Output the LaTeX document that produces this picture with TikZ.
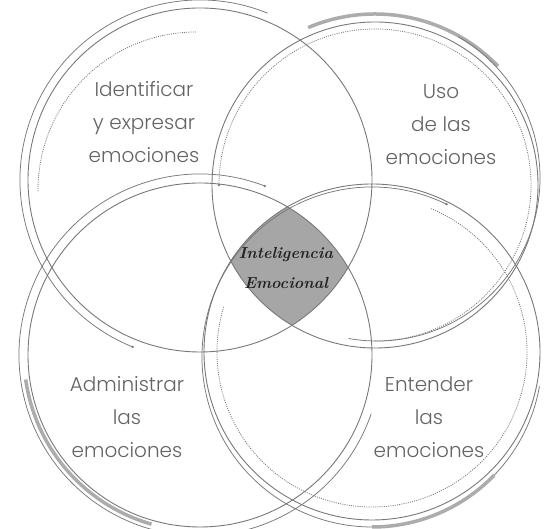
\documentclass[tikz,border=0pt]{standalone}
\usepackage{fontspec}
\newfontfamily\lblfont{Poppins Light}
\usetikzlibrary{calc}
\definecolor{linegray}{RGB}{120,120,120}
\definecolor{thickgray}{RGB}{172,172,172}
\definecolor{diamondgray}{RGB}{166,166,166}
\definecolor{textgray}{RGB}{100,100,100}
\definecolor{scriptink}{RGB}{35,35,35}
\begin{document}
\begin{tikzpicture}[x=1pt,y=1pt,
  mainline/.style={draw=linegray, line width=0.9pt},
  accentline/.style={draw=linegray, line width=0.75pt, line cap=round},
  dottedline/.style={draw=linegray, line width=0.8pt, dash pattern=on 1pt off 1.2pt},
  thickarc/.style={draw=thickgray, line width=3.5pt},
  lbl/.style={font=\lblfont\fontsize{20}{33}\selectfont, text=textgray, align=center},
  centerlbl/.style={font=\bfseries\itshape\fontsize{16}{30}\selectfont, text=scriptink, align=center},
  enddot/.style={fill=linegray}
]
\useasboundingbox (0,0) rectangle (547,529);
\fill[white] (0,0) rectangle (547,529);
\coordinate (C1) at (200,349);
\coordinate (C2) at (375,344);
\coordinate (C3) at (200,174);
\coordinate (C4) at (372,177);

% central shaded region
\begin{scope}
  \clip (C1) circle[radius=172];
  \clip (C2) circle[radius=163];
  \clip (C3) circle[radius=172];
  \fill[diamondgray] (C4) circle[radius=168];
\end{scope}

% main circles
\draw[mainline] (C1) circle[radius=172];
\draw[mainline] (C2) circle[radius=163];
\draw[mainline] (C3) circle[radius=172];
\draw[mainline] (C4) circle[radius=168];

% top-left accents
\draw[accentline] (C1) ++(68:180) arc[start angle=68,end angle=248,radius=180] coordinate (tlend);
\fill[enddot] (tlend) circle[radius=1.3];
\coordinate (D1) at (196,339);
\draw[dottedline] (D1) ++(90:158) arc[start angle=90,end angle=181,radius=158];

% top-right accents
\draw[thickarc] (C2) ++(44:171) arc[start angle=44,end angle=113,radius=171];
\coordinate (A2) at (377,351);
\draw[accentline] (A2) ++(-100:163) arc[start angle=-100,end angle=60,radius=163];
\draw[dottedline] (C2) ++(-90:156) arc[start angle=-90,end angle=180,radius=156] coordinate (trend);
\fill[enddot] (trend) circle[radius=1.3];

% bottom-left accents
\draw[accentline] (C3) ++(69:181) coordinate (blend) arc[start angle=69,end angle=341,radius=181];
\fill[enddot] (blend) circle[radius=1.3];
\draw[thickarc] (C3) ++(188:176) arc[start angle=188,end angle=254,radius=176];

% bottom-right accents
\coordinate (A4) at (372,172);
\draw[accentline] (A4) ++(64:170) coordinate (brend) arc[start angle=64,end angle=350,radius=170];
\fill[enddot] (brend) circle[radius=1.3];
\draw[thickarc] (A4) ++(270:170) arc[start angle=270,end angle=316,radius=170];
\draw[dottedline] (C4) ++(163:155) arc[start angle=163,end angle=428,radius=155];

% labels
\node[lbl] (tl) at (144,407) {Identificar\\y expresar\\emociones};
\node[lbl] (tr) at (441,404) {Uso\\de las\\emociones};
\node[lbl] (bl) at (127,112) {Administrar\\las\\emociones};
\node[lbl] (br) at (429,112) {Entender\\las\\emociones};
\node[centerlbl] (ctr) at (286,261) {Inteligencia\\Emocional};
\end{tikzpicture}
\end{document}
